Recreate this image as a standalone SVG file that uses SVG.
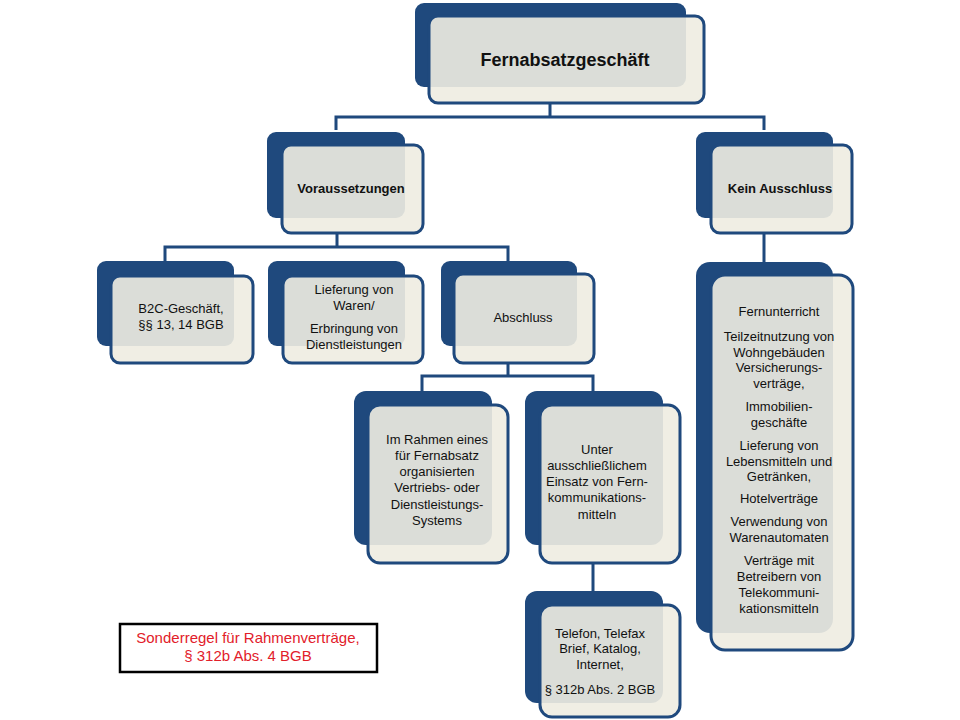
<svg xmlns="http://www.w3.org/2000/svg" width="960" height="720" viewBox="0 0 960 720">
<style>
.bk{fill:#1F497D}
.fr{fill:#EEECE1;fill-opacity:0.91;stroke:#1F497D;stroke-width:3}
.t{font-family:"Liberation Sans",Arial,sans-serif;font-size:13px;fill:#111;text-anchor:middle}
.b{font-weight:bold;font-size:13px}
.c{fill:none;stroke:#1F497D;stroke-width:3}
</style>
<rect width="960" height="720" fill="#fff"/>
<g id="connectors">
<path class="c" d="M550,103 V117 M336,130 V117 H764 V130"/>
<path class="c" d="M337,233 V247 M165,261 V247 H508 V261"/>
<path class="c" d="M764,233 V262"/>
<path class="c" d="M508,363 V376 M422,391 V376 H593 V391"/>
<path class="c" d="M593,563 V591"/>
</g>
<g id="n-fernabsatz">
<rect class="bk" x="415" y="3" width="271" height="84" rx="9"/>
<rect class="fr" x="429" y="16" width="275" height="87" rx="9"/>
<text class="t" x="565" y="66" style="font-weight:bold;font-size:18px">Fernabsatzgeschäft</text>
</g>
<g id="n-voraussetzungen">
<rect class="bk" x="267" y="132" width="138" height="86" rx="9"/>
<rect class="fr" x="282" y="145" width="141" height="88" rx="9"/>
<text class="t b" x="351" y="193">Voraussetzungen</text>
</g>
<g id="n-keinausschluss">
<rect class="bk" x="696" y="132" width="137" height="86" rx="9"/>
<rect class="fr" x="711" y="145" width="141" height="88" rx="9"/>
<text class="t b" x="780" y="193">Kein Ausschluss</text>
</g>
<g id="n-b2c">
<rect class="bk" x="97" y="261" width="137" height="85" rx="9"/>
<rect class="fr" x="111" y="276" width="142" height="87" rx="9"/>
<text class="t" x="181" y="313">B2C-Geschäft,</text>
<text class="t" x="181" y="329">§§ 13, 14 BGB</text>
</g>
<g id="n-lieferung">
<rect class="bk" x="268" y="261" width="137" height="85" rx="9"/>
<rect class="fr" x="283" y="276" width="140" height="87" rx="9"/>
<text class="t" x="354" y="294">Lieferung von</text>
<text class="t" x="354" y="310">Waren/</text>
<text class="t" x="354" y="333">Erbringung von</text>
<text class="t" x="354" y="349">Dienstleistungen</text>
</g>
<g id="n-abschluss">
<rect class="bk" x="441" y="261" width="136" height="85" rx="9"/>
<rect class="fr" x="454" y="274" width="140" height="89" rx="9"/>
<text class="t" x="523" y="322">Abschluss</text>
</g>
<g id="n-rahmen">
<rect class="bk" x="354" y="391" width="138" height="154" rx="12"/>
<rect class="fr" x="368" y="405" width="140" height="158" rx="12"/>
<text class="t" x="437" y="444">Im Rahmen eines</text>
<text class="t" x="437" y="460">für Fernabsatz</text>
<text class="t" x="437" y="476">organisierten</text>
<text class="t" x="437" y="492">Vertriebs- oder</text>
<text class="t" x="437" y="509">Dienstleistungs-</text>
<text class="t" x="437" y="525">Systems</text>
</g>
<g id="n-unter">
<rect class="bk" x="525" y="391" width="138" height="154" rx="12"/>
<rect class="fr" x="540" y="405" width="140" height="158" rx="12"/>
<text class="t" x="597" y="454">Unter</text>
<text class="t" x="597" y="470">ausschließlichem</text>
<text class="t" x="597" y="486">Einsatz von Fern-</text>
<text class="t" x="597" y="502">kommunikations-</text>
<text class="t" x="597" y="519">mitteln</text>
</g>
<g id="n-telefon">
<rect class="bk" x="525" y="591" width="138" height="112" rx="12"/>
<rect class="fr" x="540" y="605" width="140" height="112" rx="12"/>
<text class="t" x="600" y="638">Telefon, Telefax</text>
<text class="t" x="600" y="653">Brief, Katalog,</text>
<text class="t" x="600" y="669">Internet,</text>
<text class="t" x="600" y="694">§ 312b Abs. 2 BGB</text>
</g>
<g id="n-ausnahmen">
<rect class="bk" x="696" y="262" width="137" height="371" rx="14"/>
<rect class="fr" x="711" y="275" width="142" height="375" rx="14"/>
<text class="t" x="779" y="316">Fernunterricht</text>
<text class="t" x="779" y="341">Teilzeitnutzung von</text>
<text class="t" x="779" y="357">Wohngebäuden</text>
<text class="t" x="779" y="372">Versicherungs-</text>
<text class="t" x="779" y="388">verträge,</text>
<text class="t" x="779" y="411">Immobilien-</text>
<text class="t" x="779" y="427">geschäfte</text>
<text class="t" x="779" y="450">Lieferung von</text>
<text class="t" x="779" y="466">Lebensmitteln und</text>
<text class="t" x="779" y="481">Getränken,</text>
<text class="t" x="779" y="503">Hotelverträge</text>
<text class="t" x="779" y="526">Verwendung von</text>
<text class="t" x="779" y="542">Warenautomaten</text>
<text class="t" x="779" y="565">Verträge mit</text>
<text class="t" x="779" y="581">Betreibern von</text>
<text class="t" x="779" y="597">Telekommuni-</text>
<text class="t" x="779" y="613">kationsmitteln</text>
</g>
<g id="n-sonderregel">
<rect x="120" y="624" width="257" height="48" fill="#fff" stroke="#000" stroke-width="2.5"/>
<text x="248" y="643" font-family="Liberation Sans,Arial,sans-serif" font-size="15px" fill="#E2202A" text-anchor="middle">Sonderregel für Rahmenverträge,</text>
<text x="248" y="661" font-family="Liberation Sans,Arial,sans-serif" font-size="15px" fill="#E2202A" text-anchor="middle">§ 312b Abs. 4 BGB</text>
</g>
</svg>
